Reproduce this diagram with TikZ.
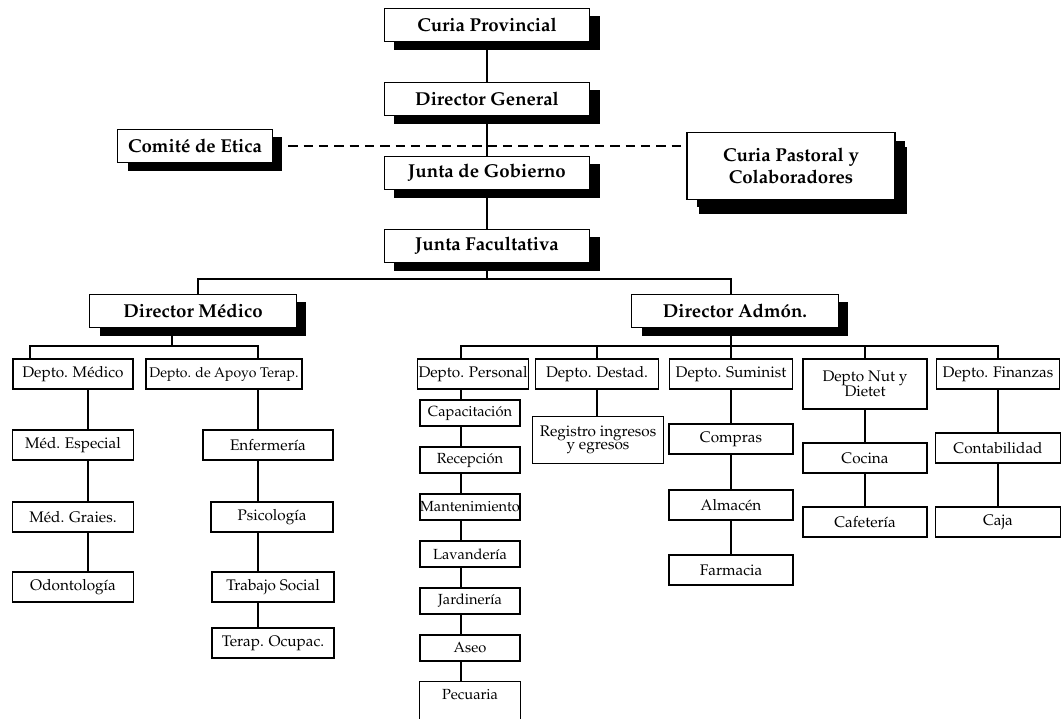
\documentclass[tikz,border=0pt]{standalone}
\usepackage[T1]{fontenc}
\usepackage{mathpazo}
\usetikzlibrary{positioning, shadows, backgrounds}

\tikzset{
  jefe/.style={draw, line width=0.9pt, fill=white,
    font=\fontsize{14}{16}\selectfont\bfseries,
    minimum width=154pt, minimum height=25pt, inner sep=2pt, align=center,
    drop shadow={fill=black, opacity=1, shadow xshift=7.5pt, shadow yshift=-6pt}},
  depto/.style={draw, line width=0.8pt, fill=white,
    font=\fontsize{11.5}{13}\selectfont,
    minimum height=22.5pt, inner xsep=1pt, inner ysep=2pt, align=center},
  puesto/.style={depto, font=\fontsize{11}{13}\selectfont, inner xsep=0pt,
    minimum width=75pt, minimum height=19.5pt},
  linea/.style={line width=1pt},
}

\begin{document}
\begin{tikzpicture}[x=0.75pt, y=-0.75pt]
  \useasboundingbox (0,0) rectangle (1064,718);

  % --- direccion
  \node[jefe] (cp)  at (487,25)  {Curia Provincial};
  \node[jefe] (dg)  at (487,99)  {Director General};
  \node[jefe] (jg)  at (487,173) {Junta de Gobierno};
  \node[jefe] (jf)  at (487,246) {Junta Facultativa};
  \node[jefe, minimum width=116pt] (ce) at (195,146) {Comit\'e de Etica};
  \node[jefe, minimum width=156pt, minimum height=50pt,
        drop shadow={fill=black, opacity=1, shadow xshift=9pt, shadow yshift=-11pt}]
        (cpc) at (791,166) {Curia Pastoral y\\Colaboradores};

  \node[jefe, minimum width=155pt] (dm) at (193,311) {Director M\'edico};
  \node[jefe, minimum width=155pt] (da) at (735,311) {Director Adm\'on.};

  % --- area medica
  \node[depto, minimum width=90pt]  (dmed) at (73,374)  {Depto. M\'edico};
  \node[depto, minimum width=117pt, font=\fontsize{10.5}{12}\selectfont] (dapo) at (224,374) {Depto. de Apoyo Terap.};
  \node[depto, minimum width=91pt]  (mesp) at (73,445)  {M\'ed. Especial};
  \node[depto, minimum width=91pt]  (mgra) at (73,517)  {M\'ed. Graies.};
  \node[depto, minimum width=91pt]  (odon) at (73,587)  {Odontolog\'{\i}a};
  \node[depto, minimum width=97.5pt] (enf)  at (268,445) {Enfermer\'{\i}a};
  \node[depto, minimum width=91.5pt] (psic) at (272,517) {Psicolog\'{\i}a};
  \node[depto, minimum width=91.5pt] (ts)   at (273,587) {Trabajo Social};
  \node[depto, minimum width=91.5pt] (ter)  at (273,643) {Terap. Ocupac.};

  % --- area administrativa
  \node[depto, minimum width=80pt] (dper) at (473,374) {Depto. Personal};
  \node[depto, minimum width=92pt] (ddes) at (597,374) {Depto. Destad.};
  \node[depto, minimum width=92pt] (dsum) at (731,374) {Depto. Suminist};
  \node[depto, minimum width=93pt, minimum height=37.5pt] (dnut) at (865,384) {Depto Nut y\\[-2pt]Dietet};
  \node[depto, minimum width=92pt] (dfin) at (998,374) {Depto. Finanzas};

  \foreach \nom/\txt [count=\k] in {cap/Capacitaci\'on, rec/Recepci\'on,
      man/Mantenimiento, lav/Lavander\'{\i}a, jar/Jardiner\'{\i}a, ase/Aseo}
    \node[puesto] (\nom) at (470,{366+47*\k}) {\txt};
  % last box runs off the page
  \node[puesto, draw=none] (pec) at (470,695) {Pecuaria};
  \draw[line width=0.8pt] ([yshift=-20pt]pec.south west) -- (pec.north west)
    -- (pec.north east) -- ([yshift=-20pt]pec.south east);

  \node[depto, minimum width=98pt, minimum height=35pt] (reg) at (598,440) {Registro ingresos\\[-3pt]y egresos};
  \node[depto, minimum width=93pt] (com) at (731,439) {Compras};
  \node[depto, minimum width=93pt] (alm) at (731,505) {Almac\'en};
  \node[depto, minimum width=93pt] (far) at (731,570) {Farmacia};
  \node[depto, minimum width=93pt] (coc) at (865,458) {Cocina};
  \node[depto, minimum width=93pt] (caf) at (865,522) {Cafeter\'{\i}a};
  \node[depto, minimum width=94pt] (con) at (998,448) {Contabilidad};
  \node[depto, minimum width=94pt] (caj) at (998,522) {Caja};

  % bus points
  \coordinate (bm) at (198,279);
  \coordinate (ba) at (731,279);
  \coordinate (mc) at (172,346);
  \coordinate (m1) at (30,346);
  \coordinate (m2) at (258,346);
  \coordinate (mcol) at (88,346);
  \coordinate (a1) at (461,346);
  \coordinate (a2) at (998,346);

  \begin{scope}[on background layer]
    % lineas de mando
    \draw[linea] (cp) -- (dg) -- (jg) -- (jf);
    \draw[linea, dash pattern=on 7pt off 4.5pt] (ce.east) -- (ce.east -| cpc.west);
    \draw[linea] (jf.south) -- (jf.south |- bm);
    \draw[linea] (dm.north -| bm) -- (bm) -- (ba) -- (da.north -| ba);

    % medico
    \draw[linea] (dm.south -| mc) -- (mc);
    \draw[linea] (dmed.north -| m1) -- (m1) -- (m2) -- (dapo.north -| m2);
    \draw[linea] (dmed.south -| mcol) -- (odon.north -| mcol);
    \draw[linea] (dapo.south -| m2) -- (ter.north -| m2);

    % administracion
    \draw[linea] (da.south -| ba) -- (dsum.north -| ba);
    \draw[linea] (dper.north -| a1) -- (a1) -- (a2) -- (dfin.north -| a2);
    \draw[linea] (ddes.north) -- (ddes.north |- a1);
    \draw[linea] (dnut.north) -- (dnut.north |- a1);
    \draw[linea] (dper.south -| a1) -- (pec.north -| a1);
    \draw[linea] (ddes.south) -- (reg.north -| ddes.south);
    \draw[linea] (dsum.south -| ba) -- (far.north -| ba);
    \draw[linea] (dnut.south) -- (caf.north);
    \draw[linea] (dfin.south) -- (caj.north);
  \end{scope}
\end{tikzpicture}
\end{document}
